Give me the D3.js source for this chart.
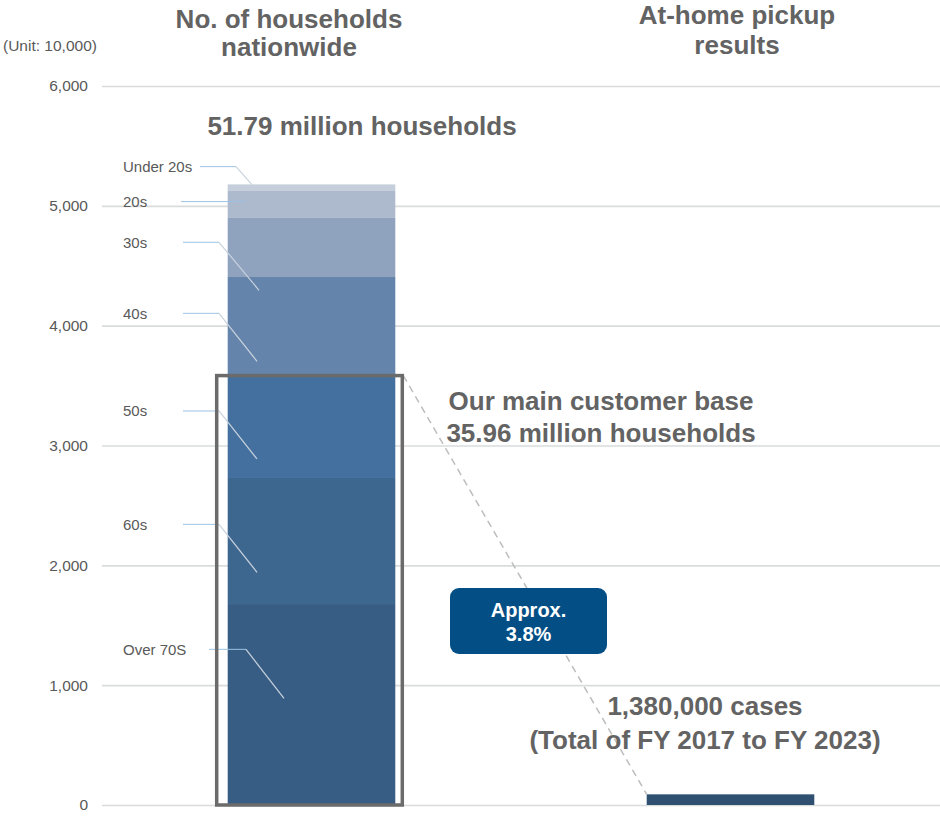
<!DOCTYPE html>
<html>
<head>
<meta charset="utf-8">
<script src="https://cdn.jsdelivr.net/npm/d3@7"></script>
<style>
  body { margin: 0; background: #fff; }
  svg { font-family: Arial, "Liberation Sans", sans-serif; display: block; }
  .grid line { stroke: #d9dcdc; stroke-width: 1.6; }
  .grid path { display: none; }
  .yaxis path, .yaxis line { display: none; }
  .yaxis text { fill: #595959; font-size: 15.5px; }
  .title { fill: #636363; font-size: 26px; font-weight: bold; text-anchor: middle; }
  .seg-label { fill: #595959; font-size: 15px; }
</style>
</head>
<body>
<div id="main"></div>
<script>
// values in units of 10,000 households
const categories = ["No. of households nationwide", "At-home pickup results"];
const ageGroups = ["Over 70S", "60s", "50s", "40s", "30s", "20s", "Under 20s"];
const households = [1677, 1052, 867, 810, 493, 225, 55];
const pickupResults = [89];
const mainBaseGroups = ["Over 70S", "60s", "50s"];
const yTicks = [0, 1000, 2000, 3000, 4000, 5000, 6000];

const segColors = ["#385d84", "#3e678f", "#44709f", "#6484ab", "#8fa3bf", "#adb9cc", "#c5cedb"];

// where each age label sits (value units) and how its leader line runs
const labelAt = [1299, 2342, 3288, 4103, 4696, 5035, 5327];
const leaders = [
  { x0: 209, x1: 246, dx: 38, dy: 49 },
  { x0: 183, x1: 219, dx: 38, dy: 48 },
  { x0: 183, x1: 219, dx: 38, dy: 48 },
  { x0: 183, x1: 219, dx: 38, dy: 48 },
  { x0: 183, x1: 219, dx: 40, dy: 48 },
  { x0: 181, x1: 246, dx: 0, dy: 0 },
  { x0: 200, x1: 236, dx: 16, dy: 18 }
];

const W = 940, H = 817;
const svg = d3.select("#main").append("svg")
  .attr("width", W).attr("height", H);

const x = d3.scaleBand()
  .domain(categories)
  .range([102, 940])
  .paddingInner(0.6)
  .paddingOuter(0.3);

const y = d3.scaleLinear()
  .domain([0, 6000])
  .range([805, 86]);

// gridlines
svg.append("g")
  .attr("class", "grid")
  .attr("transform", "translate(102,0)")
  .call(d3.axisLeft(y).tickValues(yTicks).tickSize(-838).tickFormat(""));

svg.append("g")
  .attr("class", "yaxis")
  .attr("transform", "translate(102,0)")
  .call(d3.axisLeft(y).tickValues(yTicks).tickSize(0).tickPadding(14).tickFormat(d3.format(",")));

svg.append("text")
  .attr("x", 3).attr("y", 51)
  .attr("fill", "#595959")
  .style("font-size", "15.5px")
  .text("(Unit: 10,000)");

// column titles
const titles = [
  { cx: 289, lines: ["No. of households", "nationwide"], y0: 28, gap: 28 },
  { cx: 737, lines: ["At-home pickup", "results"], y0: 24, gap: 30 }
];
titles.forEach(t => {
  t.lines.forEach((ln, i) => {
    svg.append("text").attr("class", "title")
      .attr("x", t.cx).attr("y", t.y0 + i * t.gap)
      .text(ln);
  });
});

// stacked bar
const row = {};
ageGroups.forEach((g, i) => { row[g] = households[i]; });
const stack = d3.stack().keys(ageGroups)([row]);

svg.append("g").selectAll("rect")
  .data(stack)
  .enter().append("rect")
  .attr("x", x(categories[0]))
  .attr("width", x.bandwidth())
  .attr("y", d => y(d[0][1]))
  .attr("height", d => y(d[0][0]) - y(d[0][1]))
  .attr("fill", (d, i) => segColors[i]);

// pickup bar
svg.append("rect")
  .attr("x", x(categories[1]))
  .attr("width", x.bandwidth())
  .attr("y", y(pickupResults[0]))
  .attr("height", y(0) - y(pickupResults[0]))
  .attr("fill", "#2f5071");

// age labels + leader lines
const lab = svg.append("g");
ageGroups.forEach((g, i) => {
  const ly = y(labelAt[i]);
  const L = leaders[i];
  lab.append("text").attr("class", "seg-label")
    .attr("x", 123).attr("y", ly).attr("dy", "0.35em")
    .text(g);
  lab.append("line")
    .attr("x1", L.x0).attr("x2", L.x1).attr("y1", ly).attr("y2", ly)
    .attr("stroke", "#9cc3e5").attr("stroke-width", 1);
  if (L.dy > 0) {
    lab.append("line")
      .attr("x1", L.x1).attr("y1", ly)
      .attr("x2", L.x1 + L.dx).attr("y2", ly + L.dy)
      .attr("stroke", "#c9d3dd").attr("stroke-width", 1.2);
  }
});

// main customer base box
const mainBase = d3.sum(mainBaseGroups, g => households[ageGroups.indexOf(g)]);
const bx0 = x(categories[0]) - 11;
const bx1 = x(categories[0]) + x.bandwidth() + 7;
const byTop = y(mainBase) + 1.5;

svg.append("line")
  .attr("x1", bx1 + 1).attr("y1", byTop)
  .attr("x2", x(categories[1])).attr("y2", y(pickupResults[0]))
  .attr("stroke", "#bdbdbd").attr("stroke-width", 1.5)
  .attr("stroke-dasharray", "7,5");

svg.append("rect")
  .attr("x", bx0).attr("y", byTop)
  .attr("width", bx1 - bx0).attr("height", y(0) - byTop)
  .attr("fill", "none")
  .attr("stroke", "#6b6b6b").attr("stroke-width", 3.5);

// annotations
const total = d3.sum(households);
svg.append("text").attr("class", "title")
  .attr("x", 362).attr("y", 135)
  .text(d3.format(".2f")(total / 100) + " million households");

svg.append("text").attr("class", "title")
  .attr("x", 601).attr("y", 410)
  .text("Our main customer base");
svg.append("text").attr("class", "title")
  .attr("x", 601).attr("y", 442)
  .text(d3.format(".2f")(mainBase / 100) + " million households");

const badge = svg.append("g").attr("transform", "translate(450,588)");
badge.append("rect")
  .attr("width", 157).attr("height", 66).attr("rx", 9)
  .attr("fill", "#034e85");
badge.append("text")
  .attr("x", 78.5).attr("y", 29)
  .attr("text-anchor", "middle").attr("fill", "#fff")
  .style("font-size", "20px").style("font-weight", "bold")
  .text("Approx.");
badge.append("text")
  .attr("x", 78.5).attr("y", 53)
  .attr("text-anchor", "middle").attr("fill", "#fff")
  .style("font-size", "20px").style("font-weight", "bold")
  .text("3.8%");

svg.append("text").attr("class", "title")
  .attr("x", 705).attr("y", 715)
  .text("1,380,000 cases");
svg.append("text").attr("class", "title")
  .attr("x", 705).attr("y", 749)
  .text("(Total of FY 2017 to FY 2023)");
</script>
</body>
</html>
